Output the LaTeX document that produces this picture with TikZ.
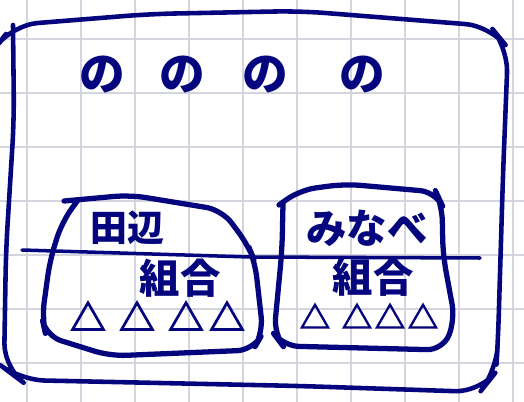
\documentclass[tikz,border=0pt]{standalone}
\usepackage{fontspec}
\newfontfamily\jpfont{Noto Sans CJK JP}
\newfontfamily\jpthick{Noto Sans CJK JP}[FakeBold=4]
\usepackage{xcolor}
\usepackage{tikz}
\definecolor{ink}{HTML}{05057E}
\definecolor{paper}{HTML}{D4D4DE}

\begin{document}
\begin{tikzpicture}[x=0.02cm,y=-0.02cm,
  pen/.style={ink,line width=2.6pt,line cap=round,line join=round},
  hand/.style={text=ink,inner sep=0pt,font=\jpfont\bfseries\fontsize{#1}{#1}\selectfont},
  hand/.default=22,
  tri/.style={text=ink,inner sep=0pt,font=\jpthick\fontsize{#1}{#1}\selectfont}]
\useasboundingbox (0,0) rectangle (524,402);
\fill[white] (0,0) rectangle (524,402);
\foreach \x in {27,81,...,513} \draw[paper,line width=0.6pt] (\x,0) -- (\x,402);
\foreach \y in {39,93,...,363} \draw[paper,line width=0.6pt] (0,\y) -- (524,\y);
\draw[pen,rounded corners=14pt] (6,34) -- (13,25) -- (150,14) -- (300,11) -- (490,26) -- (508,48) -- (503,175) -- (498,340) -- (496,372) -- (480,392) -- (300,386) -- (20,380) -- (4,368) -- (6,250) -- (14,120) -- (13,25);
\draw[pen,line width=3pt,rounded corners=9pt] (64,201) -- (130,195) -- (222,210) -- (248,245) -- (255,262) -- (263,333) -- (253,350) -- (110,356) -- (46,336) -- (42,318) -- (50,260) -- (62,222) -- (78,200);
\draw[pen,line width=3pt,rounded corners=9pt] (279,205) -- (300,190) -- (345,184) -- (436,192) -- (442,205) -- (443,255) -- (455,320) -- (443,350) -- (283,346) -- (274,334) -- (282,250) -- (283,204);
\draw[pen,line width=2pt] (22,250) -- (250,257) -- (480,258);
\foreach \x/\n in {102/a,182/b,265/c,362/d} \node[hand=26] (no\n) at (\x,75) {の};
\node[hand=21] (tanabe) at (127,228) {田辺};
\node[hand=23] (kumiaiL) at (180,278) {組合};
\node[hand=23] (minabe) at (367,228) {みなべ};
\node[hand=23] (kumiaiR) at (373,277) {組合};
\foreach \x/\n in {88/1,137/2,186/3,227/4} \node[tri=20] (triL\n) at (\x,316) {△};
\foreach \x/\n in {315/1,357/2,390/3,423/4} \node[tri=17] (triR\n) at (\x,316) {△};
\end{tikzpicture}
\end{document}
